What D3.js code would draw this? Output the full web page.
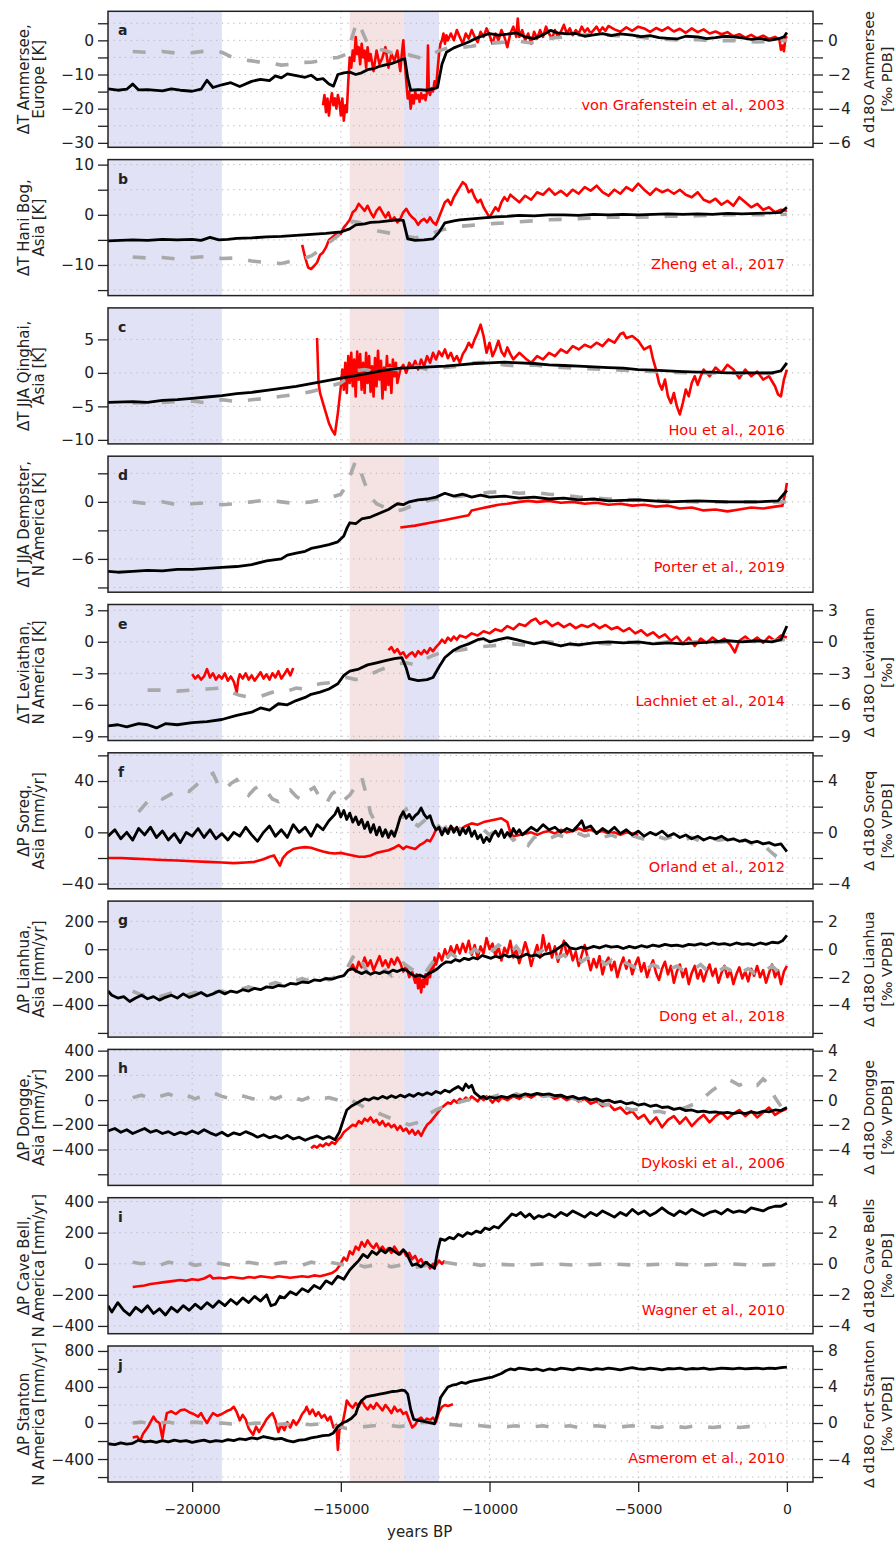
<!DOCTYPE html>
<html>
<head>
<meta charset="utf-8">
<script src="https://cdn.jsdelivr.net/npm/d3@7"></script>
<style>
  body { margin: 0; background: #fff; }
  text { font-family: "DejaVu Sans", sans-serif; fill: #222; }
</style>
</head>
<body>
<div id="chart"></div>
<script>
// ---- data: years BP (negative) and anomalies ----

// a  Ammersee
var ammerseeSim = [[-22830,-14.2],[-22500,-14.6],[-22200,-14.3],[-22000,-12.8],[-21800,-14.5],[-21500,-14.4],[-21000,-14.8],[-20700,-14.2],[-20400,-14.6],[-20000,-14.9],[-19700,-14.3],[-19500,-11.7],[-19300,-13.8],[-19000,-13.0],[-18700,-12.4],[-18400,-13.5],[-18000,-12.0],[-17700,-11.4],[-17400,-11.8],[-17200,-10.4],[-17000,-11.0],[-16800,-9.8],[-16500,-10.3],[-16200,-10.8],[-16000,-10.2],[-15800,-11.5],[-15600,-11.2],[-15400,-12.8],[-15250,-13.4],[-15100,-10.0],[-14900,-9.5],[-14700,-9.3],[-14500,-10.0],[-14300,-9.5],[-14100,-8.6],[-13900,-8.3],[-13700,-7.6],[-13500,-7.2],[-13300,-6.8],[-13100,-6.2],[-12950,-5.6],[-12850,-5.4],[-12750,-11.0],[-12650,-14.6],[-12400,-14.4],[-12100,-14.6],[-11900,-14.2],[-11750,-13.8],[-11600,-7.0],[-11450,-3.5],[-11200,-2.2],[-11000,-1.5],[-10700,-0.5],[-10400,0.8],[-10000,2.0],[-9700,1.5],[-9400,1.8],[-9100,2.2],[-8800,1.0],[-8500,0.5],[-8200,1.6],[-7950,2.9],[-7700,2.2],[-7400,1.9],[-7100,2.0],[-6800,1.2],[-6500,1.6],[-6200,2.0],[-5900,1.4],[-5600,1.9],[-5200,1.5],[-4900,1.1],[-4600,1.4],[-4300,0.8],[-4000,0.6],[-3700,0.4],[-3400,1.2],[-3000,1.0],[-2700,0.5],[-2400,0.8],[-2100,1.2],[-1800,1.0],[-1500,0.7],[-1200,0.3],[-900,0.6],[-600,0.0],[-300,0.4],[-100,1.0],[0,2.3]];
var ammerseeSimD18O = [[-22000,-0.65],[-21500,-0.7],[-21000,-0.65],[-20500,-0.75],[-20000,-0.72],[-19500,-0.62],[-19000,-0.7],[-18700,-0.95],[-18400,-1.1],[-18000,-1.2],[-17700,-1.28],[-17400,-1.3],[-17000,-1.45],[-16700,-1.4],[-16400,-1.3],[-16000,-1.28],[-15700,-1.2],[-15400,-1.05],[-15100,-1.0],[-14800,-0.8],[-14600,0.3],[-14460,1.1],[-14300,0.6],[-14100,-0.2],[-13800,-0.5],[-13500,-0.6],[-13200,-0.8],[-12900,-0.75],[-12600,-0.9],[-12300,-1.05],[-12000,-0.9],[-11700,-0.6],[-11400,-0.45],[-11000,-0.42],[-10600,-0.35],[-10200,-0.2],[-9800,-0.15],[-9400,-0.1],[-9000,-0.05],[-8600,-0.15],[-8200,0.05],[-7800,0.15],[-7400,0.2],[-7000,0.3],[-6500,0.35],[-6000,0.3],[-5500,0.25],[-5000,0.2],[-4500,0.1],[-4000,0.05],[-3500,0.0],[-3000,0.05],[-2500,-0.05],[-2000,0.0],[-1500,-0.05],[-1000,-0.1],[-500,-0.05],[0,0.0]];
var ammerseeProxy = [[-15600,-19],[-15550,-16],[-15500,-21],[-15450,-17],[-15400,-22],[-15350,-18],[-15300,-15.5],[-15250,-19],[-15200,-17],[-15150,-20],[-15100,-16],[-15050,-18],[-15000,-22],[-14950,-17],[-14900,-23.5],[-14850,-19],[-14800,-21],[-14750,-12],[-14700,-5],[-14650,-8],[-14600,-3],[-14550,-6],[-14500,1],[-14450,-4],[-14400,-2],[-14350,-7],[-14300,-1],[-14250,-5],[-14200,-3],[-14150,-8],[-14100,-2],[-14050,-6],[-14000,-4],[-13900,-9],[-13800,-3],[-13700,-7],[-13600,-5],[-13500,-2],[-13400,-8],[-13300,-4],[-13200,-6],[-13100,-3],[-13000,-9],[-12950,-4],[-12900,0],[-12850,-6],[-12800,-12],[-12750,-17],[-12700,-15],[-12650,-20],[-12600,-16],[-12550,-18.5],[-12500,-15],[-12450,-17],[-12400,-16],[-12350,-18],[-12300,-15.5],[-12250,-17],[-12200,-16],[-12150,-17.5],[-12100,-15],[-12070,-1.5],[-12040,-15],[-12000,-16],[-11950,-14],[-11900,-15],[-11850,-12],[-11800,-14],[-11750,-9],[-11700,-4],[-11650,-1],[-11600,0],[-11550,2],[-11500,-1],[-11450,1.5],[-11400,0],[-11300,2],[-11200,0],[-11100,3],[-11000,1],[-10900,-1],[-10800,2],[-10700,0.5],[-10600,3],[-10500,1],[-10400,-0.5],[-10300,2.5],[-10200,1],[-10100,3.5],[-10000,1.5],[-9900,-1],[-9800,2],[-9700,0],[-9600,3],[-9500,1],[-9400,-2],[-9300,2],[-9200,4],[-9100,1],[-9050,6.4],[-9000,1],[-8900,3],[-8800,0],[-8700,2],[-8600,-1],[-8500,2.5],[-8400,0.5],[-8300,3],[-8200,1],[-8100,4],[-8000,2],[-7900,0.5],[-7800,3],[-7700,1],[-7600,2.5],[-7500,4.5],[-7400,2],[-7300,3.5],[-7200,1.5],[-7100,3],[-7000,2],[-6900,4],[-6800,2.5],[-6700,3.5],[-6600,2],[-6500,3],[-6400,4],[-6300,2.5],[-6200,3.8],[-6100,2.8],[-6000,4.2],[-5800,3.2],[-5600,2.5],[-5400,3.8],[-5200,2.8],[-5000,4],[-4800,3.5],[-4600,2.5],[-4400,3.6],[-4200,2.8],[-4000,3.8],[-3800,2.6],[-3600,3.4],[-3400,2.2],[-3200,3.5],[-3000,2.4],[-2800,3.2],[-2600,2.0],[-2400,2.6],[-2200,1.8],[-2000,2.4],[-1800,1.2],[-1600,1.8],[-1400,0.8],[-1200,1.6],[-1000,0.6],[-800,1.4],[-600,0.4],[-400,1.0],[-250,0.2],[-200,-2.8],[-150,-1.5],[-100,-3.2],[-50,0.5],[0,1.2]];

// b  Hani Bog
var haniSim = [[-22830,-5.2],[-22000,-5.0],[-21500,-5.1],[-21000,-4.9],[-20500,-5.0],[-20000,-4.9],[-19700,-5.1],[-19400,-4.5],[-19100,-5.0],[-18800,-4.9],[-18500,-4.7],[-18000,-4.6],[-17500,-4.4],[-17000,-4.3],[-16500,-4.1],[-16000,-3.9],[-15500,-3.7],[-15000,-3.4],[-14700,-2.8],[-14500,-2.0],[-14200,-1.8],[-14000,-1.5],[-13700,-1.4],[-13400,-1.2],[-13100,-1.0],[-12900,-1.1],[-12750,-4.8],[-12500,-5.1],[-12200,-5.0],[-11900,-4.8],[-11700,-3.5],[-11500,-1.6],[-11200,-1.2],[-11000,-1.0],[-10600,-0.8],[-10200,-0.6],[-9800,-0.4],[-9400,-0.3],[-9000,-0.1],[-8500,-0.2],[-8000,0.0],[-7500,0.0],[-7000,-0.1],[-6500,0.1],[-6000,0.0],[-5500,0.1],[-5000,0.0],[-4500,0.1],[-4000,0.2],[-3500,0.1],[-3000,0.2],[-2500,0.1],[-2000,0.3],[-1500,0.2],[-1000,0.3],[-500,0.4],[-200,0.5],[0,1.5]];
var haniSimD18O = [[-22000,-8.4],[-21500,-8.6],[-21000,-8.5],[-20500,-8.8],[-20000,-8.5],[-19500,-8.3],[-19000,-8.7],[-18500,-8.6],[-18000,-9.2],[-17500,-9.5],[-17000,-9.7],[-16700,-9.3],[-16400,-9.0],[-16000,-8.2],[-15700,-7.0],[-15400,-5.5],[-15100,-4.2],[-14800,-2.5],[-14600,-1.3],[-14400,-1.5],[-14200,-2.2],[-14000,-2.8],[-13700,-3.3],[-13400,-3.6],[-13100,-4.0],[-12800,-4.3],[-12500,-4.6],[-12200,-4.2],[-11900,-3.6],[-11600,-3.0],[-11300,-2.6],[-11000,-2.3],[-10600,-2.1],[-10200,-1.9],[-9800,-1.7],[-9400,-1.6],[-9000,-1.4],[-8500,-1.2],[-8000,-1.0],[-7500,-0.9],[-7000,-0.8],[-6500,-0.6],[-6000,-0.5],[-5000,-0.5],[-4000,-0.3],[-3000,-0.2],[-2000,0.0],[-1000,0.0],[0,0.1]];
var zhengProxy = [[-16300,-6.0],[-16200,-8.5],[-16100,-10.5],[-16000,-10.8],[-15900,-10.2],[-15800,-9.5],[-15700,-8.0],[-15600,-7.5],[-15500,-6.5],[-15400,-5.0],[-15300,-4.5],[-15200,-4.0],[-15100,-3.5],[-15000,-3.8],[-14900,-2.5],[-14800,-1.8],[-14700,-1.0],[-14600,0.5],[-14500,1.0],[-14400,2.2],[-14300,1.5],[-14200,0.8],[-14100,1.8],[-14000,0.5],[-13900,-0.5],[-13800,0.8],[-13700,1.5],[-13600,0.5],[-13500,-0.5],[-13400,0.5],[-13300,-1.2],[-13200,-0.5],[-13100,-1.5],[-13000,-0.8],[-12900,0.5],[-12800,1.2],[-12700,0.2],[-12600,-0.5],[-12500,-1.0],[-12400,-2.0],[-12300,-1.2],[-12200,-0.8],[-12100,-1.5],[-12000,-0.5],[-11900,-1.5],[-11800,-2.0],[-11700,-0.5],[-11600,1.0],[-11500,2.5],[-11400,3.0],[-11300,2.0],[-11200,3.5],[-11100,4.5],[-11000,5.5],[-10900,6.5],[-10800,6.0],[-10700,4.5],[-10600,5.0],[-10500,3.5],[-10400,2.5],[-10300,3.0],[-10200,1.5],[-10100,0.5],[-10000,-0.5],[-9900,0.5],[-9800,1.5],[-9700,0.8],[-9600,2.5],[-9500,3.5],[-9400,2.8],[-9300,4.0],[-9200,3.5],[-9000,2.5],[-8800,3.8],[-8600,3.0],[-8400,4.5],[-8200,4.0],[-8000,5.2],[-7800,4.0],[-7600,4.8],[-7400,3.8],[-7200,5.0],[-7000,4.2],[-6800,5.5],[-6600,4.8],[-6400,5.8],[-6200,4.5],[-6000,3.8],[-5800,5.0],[-5600,4.2],[-5400,5.5],[-5200,4.8],[-5000,6.2],[-4800,5.0],[-4600,4.0],[-4400,5.2],[-4200,4.5],[-4000,5.0],[-3800,4.2],[-3600,5.0],[-3400,4.0],[-3200,3.5],[-3000,4.5],[-2800,3.0],[-2600,2.5],[-2400,3.2],[-2200,2.0],[-2000,2.8],[-1800,1.8],[-1600,3.5],[-1400,2.5],[-1200,1.5],[-1000,2.2],[-800,1.0],[-600,1.5],[-400,0.5],[-200,1.0],[0,0.8]];

// c  Qinghai
var qinghaiSim = [[-22830,-4.4],[-22000,-4.3],[-21500,-4.4],[-21000,-4.1],[-20500,-4.0],[-20000,-3.8],[-19500,-3.6],[-19000,-3.4],[-18500,-3.1],[-18000,-2.9],[-17500,-2.6],[-17000,-2.3],[-16500,-2.0],[-16000,-1.6],[-15500,-1.2],[-15000,-0.8],[-14500,-0.4],[-14000,0.0],[-13500,0.4],[-13000,0.7],[-12500,0.8],[-12000,0.9],[-11500,1.0],[-11000,1.2],[-10500,1.4],[-10000,1.5],[-9500,1.6],[-9000,1.5],[-8500,1.4],[-8000,1.2],[-7500,1.1],[-7000,1.0],[-6500,0.9],[-6000,0.8],[-5500,0.7],[-5000,0.5],[-4500,0.4],[-4000,0.3],[-3500,0.2],[-3000,0.1],[-2500,0.1],[-2000,0.0],[-1500,0.0],[-1000,0.0],[-500,0.0],[-200,0.3],[0,1.5]];
var qinghaiSimD18O = [[-22000,-4.5],[-21000,-4.4],[-20000,-4.2],[-19500,-4.5],[-19000,-4.0],[-18500,-4.3],[-18000,-4.0],[-17500,-3.8],[-17000,-3.5],[-16500,-3.2],[-16000,-2.8],[-15500,-2.2],[-15000,-1.5],[-14700,-0.5],[-14500,0.3],[-14200,0.5],[-14000,0.3],[-13500,0.6],[-13000,0.5],[-12500,1.0],[-12000,0.4],[-11500,0.8],[-11000,1.0],[-10500,1.5],[-10000,1.6],[-9500,1.2],[-9000,1.0],[-8500,1.2],[-8000,0.9],[-7000,0.7],[-6000,0.5],[-5000,0.3],[-4000,0.1],[-3000,0.0],[-2000,0.0],[-1000,-0.1],[0,0.0]];
var houProxy = [[-15800,5.2],[-15750,-1.5],[-15700,-3.0],[-15600,-4.5],[-15500,-6.0],[-15400,-7.5],[-15300,-8.5],[-15200,-9.2],[-15100,-6.0],[-15000,-2.0],[-14950,0.5],[-14900,-2.5],[-14850,1.5],[-14800,-3.0],[-14750,2.5],[-14700,-1.5],[-14650,3.0],[-14600,-2.0],[-14550,2.0],[-14500,-3.5],[-14450,3.2],[-14400,-1.0],[-14350,2.8],[-14300,-2.5],[-14250,1.5],[-14200,-3.0],[-14150,3.0],[-14100,-1.5],[-14050,2.5],[-14000,-2.8],[-13950,1.0],[-13900,-3.5],[-13850,2.2],[-13800,-2.0],[-13750,3.3],[-13700,-1.0],[-13650,1.8],[-13600,-3.8],[-13550,0.8],[-13500,-2.5],[-13450,2.5],[-13400,-1.8],[-13350,1.2],[-13300,-3.0],[-13250,2.0],[-13200,-0.5],[-13150,1.5],[-13100,-1.5],[-13000,0.5],[-12900,1.2],[-12800,0.0],[-12700,1.5],[-12600,0.8],[-12500,1.8],[-12400,0.5],[-12300,2.0],[-12200,1.0],[-12100,2.5],[-12000,1.5],[-11900,3.0],[-11800,2.0],[-11700,3.2],[-11600,2.5],[-11500,3.5],[-11400,2.2],[-11300,3.0],[-11200,1.8],[-11100,2.5],[-11000,1.5],[-10900,2.8],[-10800,3.5],[-10700,4.5],[-10600,3.8],[-10500,5.0],[-10400,6.0],[-10300,7.2],[-10200,5.5],[-10100,3.0],[-10000,4.5],[-9900,2.5],[-9800,3.5],[-9700,4.8],[-9600,3.2],[-9500,2.5],[-9400,3.8],[-9300,2.8],[-9200,2.0],[-9000,3.0],[-8800,2.2],[-8600,1.5],[-8400,2.5],[-8200,2.0],[-8000,3.0],[-7800,2.5],[-7600,3.5],[-7400,3.0],[-7200,4.0],[-7000,3.5],[-6800,4.2],[-6600,3.8],[-6400,4.5],[-6200,4.0],[-6000,5.0],[-5800,4.5],[-5600,5.8],[-5500,6.0],[-5400,5.2],[-5200,5.5],[-5000,4.8],[-4800,3.5],[-4600,4.0],[-4500,2.0],[-4400,0.5],[-4300,-1.5],[-4200,-2.5],[-4100,-1.0],[-4000,-3.5],[-3900,-4.5],[-3800,-3.0],[-3700,-5.0],[-3600,-6.2],[-3500,-4.5],[-3400,-2.5],[-3300,-3.5],[-3200,-1.5],[-3100,-0.5],[-3000,-1.8],[-2900,-0.5],[-2800,0.5],[-2600,-0.5],[-2400,0.8],[-2200,0.0],[-2000,1.2],[-1800,0.5],[-1600,-0.8],[-1400,0.5],[-1200,-0.5],[-1000,0.2],[-800,-1.0],[-600,-0.5],[-400,-2.0],[-300,-3.2],[-200,-3.5],[-100,-1.0],[0,0.5]];

// d  Dempster
var dempsterSim = [[-22830,-7.3],[-22500,-7.4],[-22000,-7.3],[-21500,-7.2],[-21000,-7.25],[-20500,-7.1],[-20000,-7.1],[-19500,-7.0],[-19000,-6.9],[-18500,-6.8],[-18000,-6.6],[-17500,-6.2],[-17000,-6.0],[-16800,-5.6],[-16500,-5.4],[-16200,-5.2],[-16000,-4.9],[-15700,-4.7],[-15400,-4.5],[-15100,-4.2],[-14900,-3.6],[-14800,-2.8],[-14700,-2.2],[-14500,-2.3],[-14300,-1.8],[-14000,-1.6],[-13700,-1.2],[-13400,-0.8],[-13100,-0.2],[-12900,-0.3],[-12700,0.0],[-12400,0.2],[-12100,0.3],[-11800,0.5],[-11500,0.9],[-11200,0.6],[-10900,0.8],[-10600,0.5],[-10300,0.7],[-10000,0.5],[-9500,0.6],[-9000,0.4],[-8500,0.5],[-8000,0.3],[-7500,0.4],[-7000,0.2],[-6500,0.3],[-6000,0.1],[-5000,0.2],[-4000,0.0],[-3000,0.1],[-2000,0.0],[-1000,0.0],[-300,0.1],[0,1.2]];
var dempsterSimD18O = [[-22000,0.0],[-21500,-0.2],[-21000,0.0],[-20500,-0.3],[-20000,-0.2],[-19500,-0.1],[-19000,-0.3],[-18500,-0.2],[-18000,0.0],[-17500,0.2],[-17000,0.0],[-16500,-0.2],[-16000,0.0],[-15500,0.3],[-15000,0.8],[-14800,1.8],[-14600,3.5],[-14500,4.3],[-14400,3.8],[-14200,2.0],[-14000,0.5],[-13800,-0.2],[-13500,-0.6],[-13200,-1.0],[-12900,-0.8],[-12600,-0.4],[-12300,-0.1],[-12000,0.2],[-11500,0.4],[-11000,0.6],[-10500,0.8],[-10000,1.0],[-9500,1.1],[-9000,0.9],[-8500,1.0],[-8000,0.8],[-7500,0.7],[-7000,0.5],[-6500,0.4],[-6000,0.3],[-5000,0.2],[-4000,0.1],[-3000,0.0],[-2000,0.0],[-1000,0.0],[0,0.0]];
var porterProxy = [[-13000,-2.7],[-12500,-2.5],[-12000,-2.2],[-11500,-1.9],[-11000,-1.6],[-10700,-1.4],[-10600,-0.9],[-10300,-0.7],[-10000,-0.5],[-9700,-0.3],[-9400,-0.2],[-9000,0.0],[-8700,0.1],[-8400,0.0],[-8000,0.1],[-7600,-0.1],[-7200,0.0],[-6800,-0.2],[-6400,-0.1],[-6000,-0.3],[-5600,-0.2],[-5200,-0.4],[-4800,-0.3],[-4400,-0.5],[-4000,-0.4],[-3600,-0.7],[-3200,-0.6],[-2800,-0.9],[-2400,-0.8],[-2000,-1.0],[-1600,-0.8],[-1200,-0.6],[-800,-0.7],[-400,-0.5],[-150,-0.4],[-50,1.0],[0,2.0]];

// e  Leviathan
var leviathanSim = [[-22830,-8.0],[-22500,-7.9],[-22200,-8.1],[-21800,-7.8],[-21500,-7.9],[-21200,-8.2],[-20900,-7.8],[-20500,-7.9],[-20000,-7.7],[-19500,-7.6],[-19000,-7.4],[-18500,-7.0],[-18000,-6.7],[-17700,-6.3],[-17400,-6.5],[-17100,-5.9],[-16800,-6.0],[-16500,-5.6],[-16200,-5.3],[-16000,-5.0],[-15700,-4.8],[-15400,-4.5],[-15100,-4.0],[-14900,-3.2],[-14700,-2.8],[-14400,-2.6],[-14100,-2.2],[-13800,-2.0],[-13500,-1.8],[-13200,-1.6],[-12950,-1.5],[-12800,-2.5],[-12700,-3.5],[-12400,-3.7],[-12100,-3.6],[-11900,-3.4],[-11700,-2.4],[-11500,-1.5],[-11200,-0.8],[-11000,-0.5],[-10700,-0.2],[-10400,0.2],[-10200,0.3],[-10000,0.0],[-9700,0.2],[-9400,0.4],[-9100,0.2],[-8800,0.0],[-8500,-0.2],[-8200,0.0],[-7900,-0.2],[-7600,-0.4],[-7300,-0.2],[-7000,-0.3],[-6500,-0.1],[-6000,0.0],[-5500,-0.1],[-5000,0.0],[-4500,-0.2],[-4000,-0.1],[-3500,-0.2],[-3000,-0.1],[-2500,0.0],[-2000,0.1],[-1500,0.0],[-1000,0.1],[-500,0.0],[-200,0.2],[0,1.5]];
var leviathanSimD18O = [[-21500,-4.6],[-21000,-4.6],[-20500,-4.7],[-20000,-4.6],[-19500,-4.5],[-19000,-4.4],[-18700,-4.8],[-18400,-5.1],[-18000,-5.3],[-17700,-5.2],[-17400,-4.9],[-17100,-4.6],[-16800,-4.7],[-16500,-4.4],[-16200,-4.5],[-16000,-4.2],[-15700,-4.0],[-15400,-3.9],[-15100,-3.7],[-14800,-3.4],[-14500,-3.6],[-14200,-3.3],[-14000,-3.1],[-13700,-2.7],[-13400,-2.4],[-13100,-2.1],[-12800,-2.0],[-12500,-2.2],[-12200,-1.7],[-11900,-1.3],[-11600,-1.0],[-11200,-0.9],[-10800,-0.7],[-10400,-0.5],[-10000,-0.4],[-9600,-0.3],[-9200,-0.2],[-8800,-0.3],[-8400,-0.1],[-8000,0.0],[-7500,-0.2],[-7000,-0.3],[-6500,-0.1],[-6000,-0.2],[-5500,0.0],[-5000,-0.1],[-4500,-0.2],[-4000,0.0],[-3500,-0.1],[-3000,0.0],[-2500,-0.1],[-2000,0.0],[-1500,0.1],[-1000,0.0],[-500,0.1],[0,0.2]];
var lachnietProxy = [[-20000,-3.1],[-19900,-3.5],[-19800,-3.2],[-19700,-3.6],[-19600,-3.3],[-19500,-2.6],[-19400,-3.4],[-19300,-3.0],[-19200,-3.6],[-19100,-3.2],[-19000,-3.5],[-18900,-3.0],[-18800,-3.7],[-18700,-3.3],[-18600,-3.8],[-18500,-4.8],[-18450,-3.6],[-18400,-3.1],[-18300,-3.5],[-18200,-3.0],[-18100,-3.6],[-18000,-3.2],[-17900,-3.7],[-17800,-3.3],[-17700,-2.9],[-17600,-3.5],[-17500,-3.1],[-17400,-3.6],[-17300,-3.0],[-17200,-3.4],[-17100,-2.8],[-17000,-3.5],[-16900,-3.1],[-16800,-2.6],[-16700,-3.2],[-16600,-2.5],[-16550,null],[-13400,-0.8],[-13300,-0.5],[-13200,-1.0],[-13100,-0.7],[-13000,-1.2],[-12900,-1.0],[-12800,-1.5],[-12700,-1.2],[-12600,-1.0],[-12500,-1.4],[-12400,-0.9],[-12300,-1.2],[-12200,-0.8],[-12100,-1.1],[-12000,-0.6],[-11900,-0.9],[-11800,-0.5],[-11700,-0.2],[-11600,0.2],[-11500,-0.1],[-11400,0.4],[-11300,0.1],[-11200,0.5],[-11100,0.2],[-11000,0.6],[-10800,0.4],[-10600,0.8],[-10400,0.6],[-10200,1.0],[-10000,0.8],[-9800,1.2],[-9600,1.0],[-9400,1.5],[-9200,1.2],[-9000,1.7],[-8800,1.5],[-8600,2.0],[-8450,2.2],[-8300,1.7],[-8100,2.0],[-7900,1.5],[-7700,1.8],[-7500,1.4],[-7300,1.7],[-7100,1.3],[-6900,1.6],[-6700,1.4],[-6500,1.7],[-6300,1.3],[-6100,1.6],[-5900,1.2],[-5700,1.4],[-5500,1.0],[-5300,1.3],[-5100,0.8],[-4900,1.1],[-4700,0.6],[-4500,0.9],[-4300,0.4],[-4100,0.7],[-3900,0.1],[-3700,0.5],[-3500,-0.2],[-3300,0.4],[-3100,-0.4],[-2900,0.3],[-2700,-0.1],[-2500,0.4],[-2300,0.0],[-2100,0.3],[-1900,-0.3],[-1750,-1.0],[-1600,0.1],[-1400,0.5],[-1200,0.0],[-1000,0.4],[-800,-0.1],[-600,0.5],[-400,0.1],[-200,0.6],[0,0.4]];

// f  Soreq
var soreqSim = [[-22830,-3],[-22600,2],[-22400,-5],[-22200,0],[-22000,-6],[-21800,3],[-21600,-2],[-21400,4],[-21200,-4],[-21000,1],[-20800,-6],[-20600,-1],[-20400,-8],[-20200,0],[-20000,-3],[-19800,3],[-19600,-4],[-19400,2],[-19200,-5],[-19000,-1],[-18800,-6],[-18600,0],[-18400,-3],[-18200,4],[-18000,-2],[-17800,-7],[-17600,0],[-17400,5],[-17200,-3],[-17000,2],[-16800,-4],[-16600,6],[-16400,0],[-16200,4],[-16000,-3],[-15800,6],[-15600,2],[-15400,9],[-15200,14],[-15100,19],[-15000,12],[-14900,17],[-14800,10],[-14700,15],[-14600,8],[-14500,12],[-14400,6],[-14300,10],[-14200,3],[-14100,8],[-14000,0],[-13900,6],[-13800,-2],[-13700,4],[-13600,-3],[-13500,2],[-13400,-4],[-13300,1],[-13200,-3],[-13100,4],[-13000,12],[-12900,16],[-12800,11],[-12700,14],[-12600,10],[-12500,13],[-12400,15],[-12300,19],[-12200,14],[-12100,11],[-12000,13],[-11900,6],[-11800,2],[-11700,4],[-11600,-2],[-11500,3],[-11400,-1],[-11300,5],[-11200,0],[-11100,4],[-11000,-2],[-10900,3],[-10800,-1],[-10700,4],[-10600,-3],[-10500,1],[-10400,-5],[-10300,-2],[-10200,-8],[-10100,-4],[-10000,-7],[-9900,-2],[-9800,1],[-9700,-3],[-9600,2],[-9500,-4],[-9400,0],[-9300,-3],[-9200,3],[-9100,-1],[-9000,2],[-8900,-2],[-8800,0],[-8600,4],[-8400,1],[-8200,6],[-8000,2],[-7800,4],[-7600,0],[-7400,3],[-7200,1],[-7000,6],[-6900,9],[-6800,3],[-6600,5],[-6400,-1],[-6200,3],[-6000,0],[-5800,4],[-5600,-1],[-5400,2],[-5200,-2],[-5000,1],[-4800,-3],[-4600,0],[-4400,-2],[-4200,1],[-4000,-3],[-3800,-1],[-3600,-4],[-3400,-2],[-3200,-5],[-3000,-3],[-2800,-6],[-2600,-4],[-2400,-5],[-2200,-3],[-2000,-6],[-1800,-5],[-1600,-7],[-1400,-6],[-1200,-8],[-1000,-7],[-800,-9],[-600,-8],[-400,-10],[-200,-9],[-100,-12],[0,-15]];
var soreqSimD18O = [[-21800,1.6],[-21500,2.4],[-21200,2.8],[-21000,2.6],[-20700,3.0],[-20400,3.3],[-20100,3.2],[-19800,3.8],[-19500,4.4],[-19300,4.6],[-19100,3.6],[-18900,3.3],[-18700,3.8],[-18500,4.1],[-18300,3.5],[-18100,2.9],[-17900,3.4],[-17700,3.7],[-17500,3.2],[-17300,2.6],[-17100,2.4],[-16900,3.0],[-16700,3.3],[-16500,2.8],[-16300,2.5],[-16100,3.2],[-15900,3.5],[-15700,2.7],[-15500,2.2],[-15300,3.0],[-15100,3.3],[-14900,2.5],[-14700,2.9],[-14500,3.6],[-14300,4.3],[-14150,3.0],[-14000,1.5],[-13800,0.6],[-13600,0.2],[-13400,-0.1],[-13200,0.0],[-13000,0.3],[-12900,1.6],[-12800,1.8],[-12700,1.2],[-12600,0.8],[-12400,0.5],[-12200,0.9],[-12000,0.4],[-11800,0.7],[-11600,0.2],[-11400,0.5],[-11200,0.0],[-11000,0.3],[-10800,0.1],[-10600,0.4],[-10400,0.0],[-10200,0.2],[-10000,-0.2],[-9800,0.1],[-9600,-0.4],[-9400,-0.1],[-9200,-0.6],[-9000,-0.3],[-8700,-1.0],[-8500,-0.4],[-8300,-0.2],[-8000,-0.5],[-7700,-0.2],[-7400,-0.4],[-7100,0.0],[-6800,-0.3],[-6500,-0.1],[-6200,-0.4],[-5900,-0.2],[-5600,-0.5],[-5300,-0.2],[-5000,-0.4],[-4700,-0.6],[-4400,-0.3],[-4100,-0.5],[-3800,-0.3],[-3500,-0.6],[-3200,-0.4],[-2900,-0.7],[-2600,-0.4],[-2300,-0.6],[-2000,-0.5],[-1700,-0.8],[-1400,-0.6],[-1100,-1.0],[-800,-0.9],[-600,-1.4],[-400,-1.8],[-200,-1.2],[0,-0.8]];
var orlandProxy = [[-22830,-20],[-22400,-20],[-22000,-20.5],[-21500,-21],[-21000,-21.5],[-20500,-22],[-20000,-22.5],[-19500,-23],[-19000,-23.5],[-18600,-24],[-18200,-23.5],[-17900,-23],[-17600,-21],[-17400,-19],[-17250,-18],[-17150,-22],[-17050,-26],[-16950,-20],[-16800,-16],[-16600,-13],[-16400,-12],[-16200,-11.5],[-16000,-12],[-15800,-13.5],[-15600,-15],[-15400,-16],[-15200,-16.5],[-15000,-16],[-14800,-17],[-14600,-18],[-14400,-19],[-14200,-19],[-14000,-18],[-13800,-16],[-13600,-15],[-13400,-14],[-13200,-12],[-13050,-10],[-12900,-13],[-12800,-11],[-12650,-12],[-12500,-13],[-12350,-10],[-12200,-8],[-12100,-6],[-12000,-7],[-11900,-3],[-11800,2],[-11700,3],[-11600,1],[-11500,3],[-11400,2],[-11300,4],[-11200,3],[-11000,2],[-10800,5],[-10600,7],[-10400,6],[-10200,8],[-10000,9],[-9800,10],[-9600,11],[-9400,8],[-9300,0],[-9200,-3],[-9000,-2],[-8800,-1],[-8600,0],[-8400,-2],[-8200,0],[-8000,1],[-7800,-1],[-7600,2],[-7400,0],[-7200,1],[-7000,3],[-6800,1],[-6600,2],[-6400,0],[-6200,1],[-6000,-1],[-5800,0],[-5600,-2],[-5400,0],[-5200,-1],[-5000,-2]];

// g  Lianhua
var lianhuaSim = [[-22830,-300],[-22700,-330],[-22500,-350],[-22300,-340],[-22100,-375],[-21900,-350],[-21700,-330],[-21500,-355],[-21300,-340],[-21100,-365],[-20900,-345],[-20700,-330],[-20500,-350],[-20300,-320],[-20100,-345],[-19900,-330],[-19700,-310],[-19500,-335],[-19300,-320],[-19100,-300],[-18900,-320],[-18700,-300],[-18500,-310],[-18300,-290],[-18100,-300],[-17900,-280],[-17700,-290],[-17500,-270],[-17300,-275],[-17100,-260],[-16900,-265],[-16700,-245],[-16500,-250],[-16300,-235],[-16100,-240],[-15900,-220],[-15700,-225],[-15500,-210],[-15300,-215],[-15100,-200],[-14900,-190],[-14750,-150],[-14600,-140],[-14450,-160],[-14300,-175],[-14150,-160],[-14000,-180],[-13850,-165],[-13700,-175],[-13550,-160],[-13400,-170],[-13250,-150],[-13100,-160],[-12950,-145],[-12800,-150],[-12650,-175],[-12500,-195],[-12350,-185],[-12200,-200],[-12050,-175],[-11900,-160],[-11750,-140],[-11600,-110],[-11450,-90],[-11300,-95],[-11150,-75],[-11000,-85],[-10850,-65],[-10700,-75],[-10550,-60],[-10400,-70],[-10250,-45],[-10100,-55],[-9950,-65],[-9800,-50],[-9650,-60],[-9500,-40],[-9350,-55],[-9200,-45],[-9050,-60],[-8900,-50],[-8750,-35],[-8600,-50],[-8450,-40],[-8300,-55],[-8150,-35],[-8000,-30],[-7800,-10],[-7600,20],[-7450,45],[-7300,10],[-7100,0],[-6900,15],[-6700,5],[-6500,20],[-6300,10],[-6100,25],[-5900,15],[-5700,20],[-5500,5],[-5300,20],[-5100,10],[-4900,25],[-4700,15],[-4500,30],[-4300,20],[-4100,35],[-3900,25],[-3700,30],[-3500,20],[-3300,35],[-3100,30],[-2900,40],[-2700,30],[-2500,45],[-2300,35],[-2100,40],[-1900,30],[-1700,45],[-1500,35],[-1300,40],[-1100,30],[-900,45],[-700,35],[-500,50],[-300,45],[-150,60],[0,100]];
var lianhuaSimD18O = [[-22000,-3.0],[-21700,-3.3],[-21400,-3.1],[-21100,-3.4],[-20800,-3.2],[-20500,-3.0],[-20200,-3.3],[-19900,-3.1],[-19600,-3.3],[-19300,-3.1],[-19000,-3.0],[-18700,-3.2],[-18400,-2.9],[-18100,-2.7],[-17800,-2.9],[-17500,-2.6],[-17200,-2.4],[-16900,-2.6],[-16600,-2.3],[-16300,-2.1],[-16000,-2.3],[-15700,-2.0],[-15400,-2.2],[-15100,-1.9],[-14800,-1.4],[-14600,-0.6],[-14450,-0.2],[-14300,-0.9],[-14100,-1.7],[-13900,-2.0],[-13700,-1.8],[-13500,-1.5],[-13300,-1.9],[-13100,-1.4],[-12900,-1.0],[-12700,-1.3],[-12500,-1.6],[-12300,-1.2],[-12100,-1.5],[-11900,-0.9],[-11700,-0.6],[-11500,-0.8],[-11300,-0.3],[-11100,-0.6],[-10900,-0.2],[-10700,-0.4],[-10500,0.0],[-10300,-0.3],[-10100,0.2],[-9900,-0.1],[-9700,0.3],[-9500,0.0],[-9300,-0.3],[-9100,0.2],[-8900,-0.4],[-8700,-0.1],[-8500,-0.5],[-8300,-0.2],[-8100,0.1],[-7900,-0.3],[-7700,-0.6],[-7500,-0.4],[-7300,-0.8],[-7100,-0.5],[-6900,-0.9],[-6700,-0.6],[-6500,-1.0],[-6300,-0.7],[-6100,-1.1],[-5900,-0.8],[-5700,-1.2],[-5500,-0.9],[-5300,-1.1],[-5100,-1.3],[-4900,-1.0],[-4700,-1.4],[-4500,-1.1],[-4300,-1.3],[-4100,-1.0],[-3900,-1.4],[-3700,-1.2],[-3500,-1.5],[-3300,-1.2],[-3100,-1.4],[-2900,-1.1],[-2700,-1.5],[-2500,-1.3],[-2300,-1.6],[-2100,-1.3],[-1900,-1.5],[-1700,-1.2],[-1500,-1.6],[-1300,-1.4],[-1100,-1.7],[-900,-1.3],[-700,-1.5],[-500,-1.2],[-300,-1.6],[-100,-1.4],[0,-1.5]];
var dongProxy = [[-14700,-150],[-14600,-110],[-14500,-160],[-14400,-90],[-14300,-130],[-14200,-60],[-14100,-120],[-14000,-80],[-13900,-150],[-13800,-100],[-13700,-50],[-13600,-120],[-13500,-80],[-13400,-130],[-13300,-70],[-13200,-110],[-13100,-60],[-13000,-100],[-12900,-160],[-12800,-120],[-12700,-200],[-12600,-160],[-12500,-240],[-12450,-180],[-12400,-280],[-12350,-200],[-12300,-310],[-12250,-220],[-12200,-270],[-12150,-180],[-12100,-250],[-12050,-150],[-12000,-200],[-11950,-120],[-11900,-160],[-11850,-60],[-11800,-110],[-11700,-30],[-11600,-80],[-11500,0],[-11400,-60],[-11300,20],[-11200,-40],[-11100,30],[-11000,-30],[-10900,40],[-10800,-20],[-10700,60],[-10600,-40],[-10500,30],[-10400,-60],[-10300,20],[-10200,-30],[-10100,80],[-10000,0],[-9900,40],[-9800,-50],[-9700,20],[-9600,-80],[-9500,10],[-9400,-30],[-9300,60],[-9200,-60],[-9100,0],[-9000,-100],[-8900,-30],[-8800,50],[-8700,-20],[-8600,-120],[-8500,-40],[-8400,30],[-8300,-60],[-8200,100],[-8100,-10],[-8000,40],[-7900,-60],[-7800,20],[-7700,-90],[-7600,-20],[-7500,60],[-7400,-40],[-7300,10],[-7200,-80],[-7100,-20],[-7000,-120],[-6900,-40],[-6800,30],[-6700,-60],[-6600,-150],[-6500,-70],[-6400,-130],[-6300,-50],[-6200,-180],[-6100,-100],[-6000,-60],[-5900,-150],[-5800,-90],[-5700,-200],[-5600,-120],[-5500,-60],[-5400,-140],[-5300,-80],[-5200,-180],[-5100,-110],[-5000,-60],[-4900,-160],[-4800,-100],[-4700,-200],[-4600,-130],[-4500,-80],[-4400,-170],[-4300,-220],[-4200,-140],[-4100,-90],[-4000,-180],[-3900,-120],[-3800,-240],[-3700,-160],[-3600,-110],[-3500,-200],[-3400,-140],[-3300,-250],[-3200,-170],[-3100,-120],[-3000,-210],[-2900,-150],[-2800,-230],[-2700,-160],[-2600,-110],[-2500,-190],[-2400,-140],[-2300,-240],[-2200,-170],[-2100,-120],[-2000,-200],[-1900,-150],[-1800,-250],[-1700,-180],[-1600,-130],[-1500,-210],[-1400,-160],[-1300,-230],[-1200,-140],[-1100,-190],[-1000,-120],[-900,-200],[-800,-150],[-700,-240],[-600,-170],[-500,-110],[-400,-200],[-300,-150],[-200,-250],[-100,-160],[0,-120]];

// h  Dongge
var donggeSim = [[-22830,-250],[-22600,-230],[-22400,-260],[-22200,-240],[-22000,-270],[-21800,-250],[-21600,-230],[-21400,-260],[-21200,-245],[-21000,-270],[-20800,-255],[-20600,-280],[-20400,-260],[-20200,-275],[-20000,-250],[-19800,-270],[-19600,-240],[-19400,-265],[-19200,-285],[-19000,-260],[-18800,-290],[-18600,-265],[-18400,-280],[-18200,-255],[-18000,-275],[-17800,-300],[-17600,-280],[-17400,-305],[-17200,-290],[-17000,-310],[-16800,-285],[-16600,-315],[-16400,-300],[-16200,-325],[-16000,-305],[-15800,-290],[-15600,-315],[-15400,-295],[-15200,-320],[-15050,-260],[-14900,-150],[-14800,-80],[-14650,-50],[-14500,-30],[-14350,-10],[-14200,10],[-14050,0],[-13900,20],[-13750,10],[-13600,30],[-13450,15],[-13300,35],[-13150,20],[-13000,40],[-12850,25],[-12700,45],[-12550,30],[-12400,55],[-12250,40],[-12100,60],[-11950,45],[-11800,70],[-11650,55],[-11500,80],[-11350,65],[-11200,90],[-11050,110],[-10900,80],[-10800,130],[-10700,100],[-10600,120],[-10500,60],[-10400,40],[-10300,20],[-10200,30],[-10100,10],[-10000,25],[-9800,15],[-9600,30],[-9400,20],[-9200,40],[-9000,30],[-8800,50],[-8600,40],[-8400,55],[-8200,45],[-8000,50],[-7800,35],[-7600,40],[-7400,20],[-7200,30],[-7000,10],[-6800,20],[-6600,0],[-6400,10],[-6200,-10],[-6000,0],[-5800,-20],[-5600,-10],[-5400,-30],[-5200,-20],[-5000,-40],[-4800,-30],[-4600,-50],[-4400,-40],[-4200,-60],[-4000,-55],[-3800,-75],[-3600,-65],[-3400,-85],[-3200,-80],[-3000,-95],[-2800,-90],[-2600,-100],[-2400,-95],[-2200,-105],[-2000,-100],[-1800,-110],[-1600,-100],[-1400,-110],[-1200,-95],[-1000,-105],[-800,-90],[-600,-95],[-400,-80],[-200,-85],[0,-60]];
var donggeSimD18O = [[-22000,0.2],[-21700,0.4],[-21400,0.1],[-21100,0.3],[-20800,0.5],[-20500,0.2],[-20200,0.4],[-19900,0.1],[-19600,0.4],[-19300,0.6],[-19000,0.3],[-18700,0.1],[-18400,0.4],[-18100,0.2],[-17800,0.0],[-17500,0.3],[-17200,0.1],[-16900,0.4],[-16600,0.2],[-16300,0.0],[-16000,0.3],[-15700,0.1],[-15400,0.2],[-15100,0.0],[-14800,0.2],[-14500,-0.2],[-14200,-0.6],[-13900,-0.9],[-13600,-1.2],[-13300,-1.5],[-13000,-1.7],[-12700,-2.0],[-12400,-1.8],[-12100,-1.2],[-11800,-0.8],[-11500,-0.5],[-11200,-0.3],[-10900,-0.1],[-10600,0.1],[-10300,0.0],[-10000,0.2],[-9700,0.4],[-9400,0.2],[-9100,0.5],[-8800,0.3],[-8500,0.5],[-8200,0.3],[-7900,0.4],[-7600,0.1],[-7300,0.2],[-7000,0.0],[-6700,-0.2],[-6400,-0.1],[-6100,-0.4],[-5800,-0.3],[-5500,-0.6],[-5200,-0.8],[-4900,-0.7],[-4600,-1.0],[-4300,-0.9],[-4000,-1.1],[-3700,-0.8],[-3400,-0.6],[-3100,-0.3],[-2800,0.2],[-2500,0.8],[-2200,1.3],[-1900,1.6],[-1600,1.2],[-1300,1.5],[-1000,1.2],[-800,1.7],[-600,1.3],[-400,0.2],[-200,-0.5],[0,-0.6]];
var dykoskiProxy = [[-16000,-390],[-15900,-370],[-15800,-385],[-15700,-360],[-15600,-375],[-15500,-350],[-15400,-365],[-15300,-340],[-15200,-355],[-15100,-320],[-15000,-300],[-14900,-260],[-14800,-240],[-14700,-220],[-14600,-200],[-14500,-210],[-14400,-170],[-14300,-190],[-14200,-150],[-14100,-170],[-14000,-140],[-13900,-180],[-13800,-160],[-13700,-200],[-13600,-170],[-13500,-210],[-13400,-190],[-13300,-220],[-13200,-200],[-13100,-240],[-13000,-210],[-12900,-250],[-12800,-230],[-12700,-270],[-12600,-240],[-12500,-280],[-12400,-250],[-12300,-290],[-12200,-240],[-12100,-200],[-12000,-180],[-11900,-150],[-11800,-120],[-11700,-90],[-11600,-60],[-11500,-40],[-11400,-20],[-11300,-30],[-11200,0],[-11100,-20],[-11000,10],[-10900,-10],[-10800,20],[-10700,0],[-10600,30],[-10500,10],[-10400,-10],[-10300,20],[-10200,0],[-10100,30],[-10000,10],[-9900,-20],[-9800,10],[-9700,-10],[-9600,20],[-9400,0],[-9200,30],[-9000,10],[-8800,40],[-8600,20],[-8400,50],[-8200,30],[-8000,40],[-7800,10],[-7600,30],[-7400,0],[-7200,20],[-7000,-10],[-6800,10],[-6600,-30],[-6400,-10],[-6200,-50],[-6000,-30],[-5800,-80],[-5600,-60],[-5400,-110],[-5200,-90],[-5000,-150],[-4800,-120],[-4600,-190],[-4400,-140],[-4200,-220],[-4000,-160],[-3800,-130],[-3600,-190],[-3400,-140],[-3200,-210],[-3000,-160],[-2800,-120],[-2600,-180],[-2400,-130],[-2200,-100],[-2000,-150],[-1800,-110],[-1600,-80],[-1400,-130],[-1200,-90],[-1000,-140],[-800,-100],[-600,-60],[-400,-120],[-200,-90],[0,-70]];

// i  Cave Bell
var caveBellSim = [[-22830,-270],[-22700,-310],[-22500,-250],[-22300,-300],[-22100,-330],[-21900,-280],[-21700,-310],[-21500,-270],[-21300,-320],[-21100,-290],[-20900,-330],[-20700,-280],[-20500,-310],[-20300,-270],[-20100,-300],[-19900,-260],[-19700,-290],[-19500,-250],[-19300,-280],[-19100,-240],[-18900,-270],[-18700,-230],[-18500,-260],[-18300,-220],[-18100,-250],[-17900,-210],[-17700,-240],[-17500,-200],[-17350,-270],[-17200,-260],[-17050,-210],[-16900,-220],[-16700,-180],[-16500,-200],[-16300,-160],[-16100,-180],[-15900,-140],[-15700,-160],[-15500,-110],[-15300,-130],[-15100,-80],[-14900,-100],[-14700,-40],[-14550,-10],[-14400,20],[-14250,60],[-14100,40],[-13950,80],[-13800,60],[-13650,90],[-13500,70],[-13350,100],[-13200,80],[-13050,60],[-12900,90],[-12800,70],[-12700,30],[-12600,-10],[-12450,0],[-12300,-20],[-12150,10],[-12000,-10],[-11850,-30],[-11750,80],[-11650,160],[-11500,150],[-11350,170],[-11200,160],[-11050,190],[-10900,175],[-10750,200],[-10600,190],[-10450,210],[-10300,200],[-10150,230],[-10000,220],[-9850,240],[-9700,230],[-9550,260],[-9400,290],[-9250,320],[-9100,310],[-8950,330],[-8800,300],[-8650,320],[-8500,290],[-8350,310],[-8200,300],[-8000,320],[-7800,300],[-7600,330],[-7400,310],[-7200,340],[-7000,320],[-6800,300],[-6600,330],[-6400,310],[-6200,340],[-6000,320],[-5800,300],[-5600,330],[-5400,310],[-5200,350],[-5000,320],[-4800,340],[-4600,310],[-4400,330],[-4200,360],[-4000,330],[-3800,310],[-3600,340],[-3400,320],[-3200,350],[-3000,330],[-2800,310],[-2600,330],[-2400,340],[-2200,320],[-2000,350],[-1800,330],[-1600,340],[-1400,330],[-1200,360],[-1000,350],[-800,340],[-600,360],[-400,370],[-200,370],[0,390]];
var caveBellSimD18O = [[-22000,0.1],[-21700,0.0],[-21400,0.1],[-21100,-0.1],[-20800,0.1],[-20500,0.0],[-20200,0.1],[-19900,-0.1],[-19600,0.0],[-19300,0.1],[-19000,0.0],[-18700,-0.1],[-18400,0.0],[-18100,0.1],[-17800,0.0],[-17500,-0.1],[-17200,0.0],[-16900,0.1],[-16600,0.0],[-16300,-0.1],[-16000,0.1],[-15700,0.0],[-15400,0.1],[-15100,0.0],[-14800,-0.1],[-14500,0.0],[-14200,-0.2],[-13900,-0.1],[-13600,0.0],[-13300,-0.2],[-13000,-0.1],[-12700,-0.3],[-12400,-0.2],[-12100,-0.1],[-11800,0.0],[-11500,0.1],[-11200,0.0],[-10900,-0.1],[-10600,0.0],[-10300,-0.1],[-10000,0.0],[-9000,-0.1],[-8000,0.0],[-7000,-0.1],[-6000,0.0],[-5000,-0.1],[-4000,0.0],[-3000,-0.1],[-2000,0.0],[-1000,-0.1],[0,0.0]];
var wagnerProxy = [[-22000,-150],[-21800,-145],[-21600,-140],[-21400,-130],[-21200,-125],[-21000,-120],[-20800,-115],[-20600,-110],[-20400,-105],[-20200,-110],[-20000,-100],[-19800,-105],[-19600,-95],[-19400,-75],[-19300,-95],[-19100,-90],[-18900,-95],[-18700,-85],[-18500,-90],[-18300,-95],[-18100,-85],[-17900,-90],[-17700,-80],[-17500,-85],[-17300,-90],[-17100,-80],[-16900,-85],[-16700,-90],[-16500,-85],[-16300,-80],[-16100,-85],[-15900,-75],[-15700,-80],[-15500,-70],[-15300,-60],[-15150,-40],[-15000,0],[-14900,40],[-14800,20],[-14700,80],[-14600,60],[-14500,110],[-14400,90],[-14300,140],[-14200,110],[-14100,150],[-14000,120],[-13900,100],[-13800,130],[-13700,90],[-13600,110],[-13500,80],[-13400,100],[-13300,70],[-13200,110],[-13100,80],[-13000,60],[-12900,90],[-12800,50],[-12700,70],[-12600,30],[-12500,50],[-12400,10],[-12300,30],[-12200,-10],[-12100,10],[-12000,-30],[-11900,0],[-11800,-10],[-11700,20],[-11600,0],[-11500,20]];

// j  Fort Stanton
var stantonSim = [[-22830,-230],[-22600,-240],[-22400,-220],[-22200,-235],[-22000,-225],[-21800,-190],[-21600,-210],[-21400,-200],[-21200,-215],[-21000,-195],[-20800,-210],[-20600,-190],[-20400,-205],[-20200,-195],[-20000,-215],[-19800,-200],[-19600,-190],[-19400,-210],[-19200,-195],[-19000,-205],[-18800,-185],[-18600,-195],[-18400,-175],[-18200,-185],[-18000,-165],[-17800,-175],[-17600,-150],[-17400,-165],[-17200,-180],[-17000,-170],[-16800,-195],[-16600,-210],[-16400,-190],[-16200,-185],[-16000,-165],[-15800,-155],[-15600,-140],[-15400,-135],[-15250,-110],[-15100,-40],[-14950,0],[-14800,20],[-14650,50],[-14500,100],[-14400,200],[-14300,250],[-14150,290],[-14000,300],[-13850,310],[-13700,320],[-13550,330],[-13400,340],[-13250,350],[-13100,355],[-12950,365],[-12850,360],[-12750,320],[-12650,150],[-12550,40],[-12400,30],[-12250,20],[-12100,10],[-11950,0],[-11850,-10],[-11750,100],[-11650,280],[-11550,330],[-11400,400],[-11250,420],[-11100,430],[-10950,450],[-10800,440],[-10650,460],[-10500,470],[-10350,480],[-10200,490],[-10050,500],[-9900,510],[-9750,530],[-9600,550],[-9450,580],[-9300,600],[-9150,590],[-9000,610],[-8800,600],[-8600,590],[-8400,600],[-8200,580],[-8000,600],[-7800,590],[-7600,610],[-7400,600],[-7200,590],[-7000,610],[-6800,600],[-6600,590],[-6400,605],[-6200,595],[-6000,610],[-5800,600],[-5600,590],[-5400,605],[-5200,615],[-5000,600],[-4800,595],[-4600,610],[-4400,600],[-4200,590],[-4000,605],[-3800,600],[-3600,610],[-3400,595],[-3200,605],[-3000,600],[-2800,610],[-2600,595],[-2400,600],[-2200,610],[-2000,605],[-1800,600],[-1600,610],[-1400,600],[-1200,605],[-1000,610],[-800,600],[-600,610],[-400,605],[-200,615],[0,620]];
var stantonSimD18O = [[-22000,0.0],[-21700,0.1],[-21400,-0.1],[-21100,0.0],[-20800,0.1],[-20500,-0.1],[-20200,0.0],[-19900,0.1],[-19600,0.0],[-19300,-0.1],[-19000,0.0],[-18700,-0.1],[-18400,0.0],[-18100,-0.1],[-17800,0.0],[-17500,-0.1],[-17200,-0.2],[-16900,-0.1],[-16600,-0.2],[-16300,-0.1],[-16000,-0.2],[-15700,-0.1],[-15400,-0.3],[-15100,-0.4],[-14800,-0.6],[-14500,-0.5],[-14200,-0.4],[-13900,-0.3],[-13600,-0.2],[-13300,-0.3],[-13000,-0.4],[-12700,-0.2],[-12400,0.0],[-12100,0.1],[-11800,0.0],[-11500,-0.1],[-11200,-0.2],[-10900,-0.3],[-10600,-0.2],[-10300,-0.3],[-10000,-0.4],[-9700,-0.3],[-9400,-0.4],[-9100,-0.3],[-8800,-0.5],[-8500,-0.4],[-8200,-0.3],[-7900,-0.5],[-7600,-0.4],[-7300,-0.3],[-7000,-0.5],[-6700,-0.4],[-6400,-0.3],[-6100,-0.4],[-5800,-0.5],[-5500,-0.4],[-5200,-0.3],[-4900,-0.5],[-4600,-0.4],[-4300,-0.5],[-4000,-0.3],[-3700,-0.4],[-3400,-0.5],[-3100,-0.3],[-2800,-0.4],[-2500,-0.5],[-2200,-0.4],[-1900,-0.3],[-1600,-0.5],[-1300,-0.4],[-1000,-0.5],[-700,-0.4]];
var asmeromProxy = [[-22000,-160],[-21850,-150],[-21750,-200],[-21650,-120],[-21500,-50],[-21400,10],[-21300,70],[-21200,20],[-21100,0],[-21000,-170],[-20950,-60],[-20850,110],[-20700,130],[-20550,100],[-20400,140],[-20250,150],[-20100,120],[-19950,100],[-19800,70],[-19700,110],[-19600,50],[-19500,0],[-19400,60],[-19300,110],[-19150,80],[-19000,100],[-18850,130],[-18700,150],[-18600,180],[-18500,120],[-18400,30],[-18300,90],[-18200,40],[-18100,-60],[-17950,-130],[-17850,-40],[-17750,-100],[-17600,-20],[-17500,40],[-17400,80],[-17300,110],[-17200,30],[-17100,-100],[-17000,-20],[-16900,-80],[-16800,10],[-16700,-50],[-16600,30],[-16500,-20],[-16400,30],[-16300,100],[-16200,140],[-16150,180],[-16050,100],[-15950,150],[-15850,80],[-15750,120],[-15650,60],[-15550,90],[-15450,30],[-15350,70],[-15250,-50],[-15150,-20],[-15100,-300],[-15050,-80],[-14950,-20],[-14850,150],[-14800,250],[-14700,200],[-14600,170],[-14500,220],[-14400,180],[-14300,250],[-14200,190],[-14100,150],[-14000,200],[-13900,160],[-13800,220],[-13700,180],[-13600,140],[-13500,200],[-13400,160],[-13300,110],[-13200,180],[-13100,130],[-13000,150],[-12900,100],[-12800,120],[-12700,30],[-12600,-50],[-12500,-20],[-12400,40],[-12300,60],[-12200,20],[-12100,50],[-12000,30],[-11900,60],[-11800,10],[-11700,120],[-11600,180],[-11500,200],[-11400,190],[-11300,200],[-11230,210]];

// climate periods (years BP)
var periods = [
  {name: "LGM", from: -23000, to: -19000},
  {name: "BA",  from: -14700, to: -12900},
  {name: "YD",  from: -12900, to: -11700}
];

var xTicks = [-20000, -15000, -10000, -5000, 0];

var panels = [
  {id: "a", left: ["\u0394T Ammersee,", "Europe [K]"], right: ["\u0394 d18O Ammersee", "[\u2030 PDB]"],
   domain: [-31.3, 8.5], ratio: 5, ticks: [-30,-25,-20,-15,-10,-5,0,5], labels: [-30,-20,-10,0],
   rTicks: [-6,-5,-4,-3,-2,-1,0,1], rLabels: [-6,-4,-2,0],
   sim: ammerseeSim, simIso: ammerseeSimD18O, proxy: ammerseeProxy, cite: "von Grafenstein et al., 2003", citeAt: -20.5},
  {id: "b", left: ["\u0394T Hani Bog,", "Asia [K]"], right: null,
   domain: [-16.1, 11], ratio: 1, ticks: [-15,-10,-5,0,5,10], labels: [-10,0,10],
   sim: haniSim, simIso: haniSimD18O, proxy: zhengProxy, cite: "Zheng et al., 2017", citeAt: -10.8},
  {id: "c", left: ["\u0394T JJA Qinghai,", "Asia [K]"], right: null,
   domain: [-10.6, 9.7], ratio: 1, ticks: [-10,-5,0,5], labels: [-10,-5,0,5],
   sim: qinghaiSim, simIso: qinghaiSimD18O, proxy: houProxy, cite: "Hou et al., 2016", citeAt: -9.3},
  {id: "d", left: ["\u0394T JJA Dempster,", "N America [K]"], right: null,
   domain: [-9.5, 4.8], ratio: 1, ticks: [-9,-6,-3,0,3], labels: [-6,0],
   sim: dempsterSim, simIso: dempsterSimD18O, proxy: porterProxy, cite: "Porter et al., 2019", citeAt: -7.4},
  {id: "e", left: ["\u0394T Leviathan,", "N America [K]"], right: ["\u0394 d18O Leviathan", "[\u2030]"],
   domain: [-9.4, 3.55], ratio: 1, ticks: [-9,-6,-3,0,3], labels: [-9,-6,-3,0,3],
   rTicks: [-9,-6,-3,0,3], rLabels: [-9,-6,-3,0,3],
   sim: leviathanSim, simIso: leviathanSimD18O, proxy: lachnietProxy, cite: "Lachniet et al., 2014", citeAt: -6.1},
  {id: "f", left: ["\u0394P Soreq,", "Asia [mm/yr]"], right: ["\u0394 d18O Soreq", "[\u2030 VPDB]"],
   domain: [-44, 62], ratio: 10, ticks: [-40,-20,0,20,40,60], labels: [-40,0,40],
   rTicks: [-4,-2,0,2,4,6], rLabels: [-4,0,4],
   sim: soreqSim, simIso: soreqSimD18O, proxy: orlandProxy, cite: "Orland et al., 2012", citeAt: -31},
  {id: "g", left: ["\u0394P Lianhua,", "Asia [mm/yr]"], right: ["\u0394 d18O Lianhua", "[\u2030 VPDB]"],
   domain: [-630, 345], ratio: 100, ticks: [-600,-400,-200,0,200], labels: [-400,-200,0,200],
   rTicks: [-6,-4,-2,0,2], rLabels: [-4,-2,0,2],
   sim: lianhuaSim, simIso: lianhuaSimD18O, proxy: dongProxy, cite: "Dong et al., 2018", citeAt: -514},
  {id: "h", left: ["\u0394P Dongge,", "Asia [mm/yr]"], right: ["\u0394 d18O Dongge", "[\u2030 VPDB]"],
   domain: [-690, 410], ratio: 100, ticks: [-600,-400,-200,0,200,400], labels: [-400,-200,0,200,400],
   rTicks: [-6,-4,-2,0,2,4], rLabels: [-4,-2,0,2,4],
   sim: donggeSim, simIso: donggeSimD18O, proxy: dykoskiProxy, cite: "Dykoski et al., 2006", citeAt: -550},
  {id: "i", left: ["\u0394P Cave Bell,", "N America [mm/yr]"], right: ["\u0394 d18O Cave Bells", "[\u2030 PDB]"],
   domain: [-450, 425], ratio: 100, ticks: [-400,-200,0,200,400], labels: [-400,-200,0,200,400],
   rTicks: [-4,-2,0,2,4], rLabels: [-4,-2,0,2,4],
   sim: caveBellSim, simIso: caveBellSimD18O, proxy: wagnerProxy, cite: "Wagner et al., 2010", citeAt: -330},
  {id: "j", left: ["\u0394P Stanton", "N America [mm/yr]"], right: ["\u0394 d18O Fort Stanton", "[\u2030 VPDB]"],
   domain: [-655, 855], ratio: 100, ticks: [-600,-400,-200,0,200,400,600,800], labels: [-400,0,400,800],
   rTicks: [-6,-4,-2,0,2,4,6,8], rLabels: [-4,0,4,8],
   sim: stantonSim, simIso: stantonSimD18O, proxy: asmeromProxy, cite: "Asmerom et al., 2010", citeAt: -445}
];

// ---- layout ----
var width = 895, height = 1542,
    plotLeft = 108, plotRight = 813,
    firstTop = 11.3, step = 148.3, panelH = 136;

var periodFill = {LGM: "#e2e2f6", BA: "#f5e2e2", YD: "#e2e2f6"};

var fmt = function(v) { return (v < 0 ? "\u2212" : "") + Math.abs(v); };

var svg = d3.select("#chart").append("svg")
    .attr("width", width)
    .attr("height", height)
    .style("background", "#fff");

var x = d3.scaleLinear().domain([-22830, 878]).range([plotLeft, plotRight]);

panels.forEach(function(p, i) {
  var top = firstTop + i * step, bottom = top + panelH;
  var y = d3.scaleLinear().domain(p.domain).range([bottom, top]);
  var y2 = d3.scaleLinear().domain(p.domain.map(function(v) { return v / p.ratio; })).range([bottom, top]);
  var isoScale = p.right ? y2 : y;

  var g = svg.append("g").attr("class", "panel");

  g.append("clipPath").attr("id", "clip-" + p.id)
    .append("rect").attr("x", plotLeft).attr("y", top)
    .attr("width", plotRight - plotLeft).attr("height", panelH);

  var inner = g.append("g").attr("clip-path", "url(#clip-" + p.id + ")");

  // shaded periods
  inner.selectAll(".period").data(periods).enter().append("rect")
    .attr("x", function(d) { return x(d.from); })
    .attr("width", function(d) { return x(d.to) - x(d.from); })
    .attr("y", top).attr("height", panelH)
    .attr("fill", function(d) { return periodFill[d.name]; });

  // grid
  inner.selectAll(".vgrid").data(xTicks).enter().append("line")
    .attr("x1", function(d) { return x(d); }).attr("x2", function(d) { return x(d); })
    .attr("y1", top).attr("y2", bottom)
    .attr("stroke", "#b5b5b5").attr("stroke-width", 1).attr("stroke-dasharray", "1.2,4.5");
  inner.selectAll(".hgrid").data(p.ticks).enter().append("line")
    .attr("x1", plotLeft).attr("x2", plotRight)
    .attr("y1", function(d) { return y(d); }).attr("y2", function(d) { return y(d); })
    .attr("stroke", "#b5b5b5").attr("stroke-width", 1).attr("stroke-dasharray", "1.2,4.5");

  var lineFor = function(scale) {
    return d3.line()
      .defined(function(d) { return d[1] !== null; })
      .x(function(d) { return x(d[0]); })
      .y(function(d) { return scale(d[1]); });
  };

  inner.append("path").datum(p.proxy)
    .attr("d", lineFor(y)).attr("fill", "none")
    .attr("stroke", "#ff0000").attr("stroke-width", 2.6).attr("stroke-linejoin", "round");
  inner.append("path").datum(p.simIso)
    .attr("d", lineFor(isoScale)).attr("fill", "none")
    .attr("stroke", "#a9a9a9").attr("stroke-width", 3.6)
    .attr("stroke-dasharray", "13,16");
  inner.append("path").datum(p.sim)
    .attr("d", lineFor(y)).attr("fill", "none")
    .attr("stroke", "#000").attr("stroke-width", 2.8).attr("stroke-linejoin", "round");

  // frame
  g.append("rect").attr("x", plotLeft).attr("y", top)
    .attr("width", plotRight - plotLeft).attr("height", panelH)
    .attr("fill", "none").attr("stroke", "#222").attr("stroke-width", 1.5);

  // left axis
  var leftAxis = d3.axisLeft(y).tickValues(p.ticks).tickSize(10).tickPadding(4)
    .tickFormat(function(d) { return p.labels.indexOf(d) >= 0 ? fmt(d) : ""; });
  var la = g.append("g").attr("transform", "translate(" + plotLeft + ",0)").call(leftAxis);
  la.select(".domain").remove();
  la.selectAll("line").attr("stroke", "#222").attr("stroke-width", 1.3);
  la.selectAll("text").attr("font-size", 15.5).attr("fill", "#222")
    .attr("font-family", "DejaVu Sans, sans-serif");

  g.selectAll(".ltitle").data(p.left).enter().append("text")
    .attr("transform", function(d, k) { return "translate(" + (24 + k * 15) + "," + (top + panelH / 2) + ") rotate(-90)"; })
    .attr("text-anchor", "middle").attr("dominant-baseline", "central")
    .attr("font-size", 15).text(function(d) { return d; });

  // right axis
  if (p.right) {
    var rightAxis = d3.axisRight(y2).tickValues(p.rTicks).tickSize(10).tickPadding(5)
      .tickFormat(function(d) { return p.rLabels.indexOf(d) >= 0 ? fmt(d) : ""; });
    var ra = g.append("g").attr("transform", "translate(" + plotRight + ",0)").call(rightAxis);
    ra.select(".domain").remove();
    ra.selectAll("line").attr("stroke", "#222").attr("stroke-width", 1.3);
    ra.selectAll("text").attr("font-size", 15.5).attr("fill", "#222")
      .attr("font-family", "DejaVu Sans, sans-serif");

    g.selectAll(".rtitle").data(p.right).enter().append("text")
      .attr("transform", function(d, k) { return "translate(" + (869 + k * 18) + "," + (top + panelH / 2) + ") rotate(-90)"; })
      .attr("text-anchor", "middle").attr("dominant-baseline", "central")
      .attr("font-size", 14.5).text(function(d) { return d; });
  }

  // panel letter and source
  g.append("text").attr("x", plotLeft + 10).attr("y", top + 24)
    .attr("font-size", 14).attr("font-weight", "bold").text(p.id);
  g.append("text").attr("x", x(0) - 2).attr("y", y(p.citeAt))
    .attr("text-anchor", "end").attr("font-size", 14.5)
    .style("fill", "#ff0000").text(p.cite);

  // x axis under the last panel
  if (i === panels.length - 1) {
    var xa = g.append("g").attr("transform", "translate(0," + bottom + ")")
      .call(d3.axisBottom(x).tickValues(xTicks).tickSize(10).tickPadding(12)
        .tickFormat(fmt));
    xa.select(".domain").remove();
    xa.selectAll("line").attr("stroke", "#222").attr("stroke-width", 1.3);
    xa.selectAll("text").attr("font-size", 14).attr("fill", "#222")
      .attr("font-family", "DejaVu Sans, sans-serif");
    svg.append("text").attr("x", 387).attr("y", 1537)
      .attr("font-size", 15).text("years BP");
  }
});
</script>
</body>
</html>
